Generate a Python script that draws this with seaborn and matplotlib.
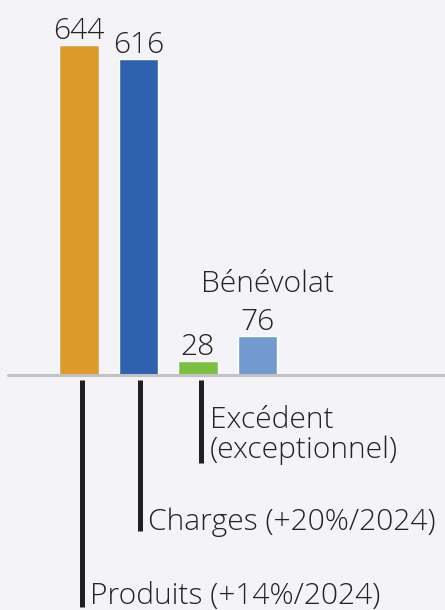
import matplotlib
matplotlib.use("Agg")
import matplotlib.pyplot as plt
import seaborn as sns
import pandas as pd

# data
categories = ["Produits", "Charges", "Excédent", "Bénévolat"]
values = [644, 616, 28, 76]
colors = ["#dc9a2a", "#2f62ae", "#7bc043", "#719bd0"]
value_labels = ["644", "616", "28", "76"]
long_labels = ["Produits (+14%/2024)", "Charges (+20%/2024)", "Excédent\n(exceptionnel)"]

sns.set_style("white")
plt.rcParams['font.family'] = ['Open Sans', 'DejaVu Sans']

W, H, DPI = 445, 610, 100
fig = plt.figure(figsize=(W / DPI, H / DPI), dpi=DPI)
bg = "#f4f3f8"
fig.patch.set_facecolor(bg)
ax = fig.add_axes([0, 0, 1, 1])
ax.set_facecolor(bg)

# pixel geometry of the reference
x0, dx = 79, 59.5      # first bar centre, spacing (px)
base_px = 375          # baseline (px from top)
k = 0.513              # px per unit

def py(p):
    # pixel row -> data y
    return (base_px - p) / k

def px(p):
    return (p - x0) / dx

df = pd.DataFrame({"cat": categories, "val": values})
sns.barplot(data=df, x="cat", y="val", hue="cat", palette=colors,
            width=0.66, legend=False, ax=ax, saturation=1, zorder=2)
ax.set_xlim((0 - x0) / dx, (W - x0) / dx)
ax.set_ylim(-(H - base_px) / k, base_px / k)

ax.axhline(0, xmin=8 / W, color="#c2c2c4", lw=2.2, zorder=3)

txt = "#262326"
fs = 21.6
fw = "light"
for i, (v, lab) in enumerate(zip(values, value_labels)):
    ax.text(i, v + 6 / k, lab, ha="center", va="baseline", fontsize=fs,
            color=txt, fontweight=fw)

ax.text(px(201), py(292), "Bénévolat", ha="left", va="baseline", fontsize=fs,
        color=txt, fontweight=fw)

# leader lines + labels under the bars
line_bottom = [607, 531, 463]
line_x = [82, 139.5, 201]
text_x = [90, 148, 210]
text_base = [604, 530, 458]
for i in range(3):
    ax.plot([px(line_x[i]), px(line_x[i])], [py(380), py(line_bottom[i])],
            color="#231f20", lw=3.6, solid_capstyle="butt", zorder=3)
    ax.text(px(text_x[i]), py(text_base[i]), long_labels[i], ha="left", va="baseline",
            fontsize=fs, color=txt, linespacing=1.0, fontweight=fw)

ax.set_axis_off()
fig.savefig("out.png", dpi=DPI, facecolor=bg)
